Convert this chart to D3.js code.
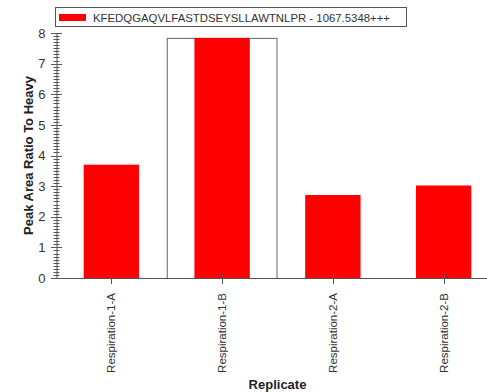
<!DOCTYPE html>
<html lang="en">
<head>
<meta charset="UTF-8">
<title>Peak Area Ratio</title>
<script src="https://d3js.org/d3.v7.min.js"></script>
<style>
  body { margin: 0; background: #fff; }
  svg { font-family: "Liberation Sans", Arial, sans-serif; display: block; }
  .axis-title { font-size: 13px; font-weight: bold; fill: #222; }
</style>
</head>
<body>
<svg id="chart" width="487" height="392"></svg>
<script>
const replicates = ["Respiration-1-A", "Respiration-1-B", "Respiration-2-A", "Respiration-2-B"];
const ratios = [3.70, 7.84, 2.71, 3.02];
const seriesName = "KFEDQGAQVLFASTDSEYSLLAWTNLPR - 1067.5348+++";
const selectedReplicate = "Respiration-1-B";

const svg = d3.select("#chart");
const plotLeft = 56, plotRight = 499, plotTop = 33, plotBottom = 278;
const axisColor = "#555";

const x = d3.scaleBand().domain(replicates).range([plotLeft, plotRight]);
const y = d3.scaleLinear().domain([0, 8]).range([plotBottom, plotTop]);

// selection box
const sel = replicates.indexOf(selectedReplicate);
svg.append("rect")
   .attr("x", x(selectedReplicate) + 0.5)
   .attr("y", y(ratios[sel]) + 0.5)
   .attr("width", x.bandwidth() - 1)
   .attr("height", plotBottom - y(ratios[sel]))
   .attr("fill", "none")
   .attr("stroke", "#666");

// bars
svg.selectAll(".bar")
   .data(replicates)
   .enter()
   .append("rect")
   .attr("x", d => x(d) + x.bandwidth() * 0.25)
   .attr("y", (d, i) => y(ratios[i]))
   .attr("width", x.bandwidth() * 0.5)
   .attr("height", (d, i) => plotBottom - y(ratios[i]))
   .attr("fill", "#ff0000");

// y axis
const yAxis = svg.append("g")
   .attr("transform", `translate(${plotLeft + 0.5},0)`)
   .call(d3.axisLeft(y).ticks(8).tickSize(0).tickPadding(11));
yAxis.select(".domain").attr("stroke", axisColor);
yAxis.selectAll("text").attr("font-size", 13).attr("fill", "#333");

svg.append("g").selectAll("line")
   .data(y.ticks(80))
   .enter()
   .append("line")
   .attr("x1", d => Math.abs(d - Math.round(d)) < 1e-6 ? plotLeft - 5 : plotLeft - 2.5)
   .attr("x2", d => Math.abs(d - Math.round(d)) < 1e-6 ? plotLeft + 6 : plotLeft + 3.5)
   .attr("y1", d => Math.round(y(d)) + 0.5)
   .attr("y2", d => Math.round(y(d)) + 0.5)
   .attr("stroke", axisColor);

// x axis
svg.append("line")
   .attr("x1", plotLeft).attr("x2", 487)
   .attr("y1", plotBottom + 0.5).attr("y2", plotBottom + 0.5)
   .attr("stroke", axisColor);

svg.append("g").selectAll("line")
   .data(replicates)
   .enter()
   .append("line")
   .attr("x1", d => Math.round(x(d) + x.bandwidth() / 2) + 0.5)
   .attr("x2", d => Math.round(x(d) + x.bandwidth() / 2) + 0.5)
   .attr("y1", plotBottom - 4)
   .attr("y2", plotBottom + 6)
   .attr("stroke", axisColor);

svg.append("g").selectAll("text")
   .data(replicates)
   .enter()
   .append("text")
   .attr("transform", d => `translate(${x(d) + x.bandwidth() / 2 + 4},${plotBottom + 15}) rotate(-90)`)
   .attr("text-anchor", "end")
   .attr("font-size", 11.5)
   .attr("fill", "#333")
   .text(d => d);

// axis titles
svg.append("text")
   .attr("class", "axis-title")
   .attr("transform", `translate(33,155.5) rotate(-90)`)
   .attr("text-anchor", "middle")
   .text("Peak Area Ratio To Heavy");

svg.append("text")
   .attr("class", "axis-title")
   .attr("x", (plotLeft + plotRight) / 2)
   .attr("y", 389)
   .attr("text-anchor", "middle")
   .text("Replicate");

// legend
const legend = svg.append("g");
legend.append("rect")
   .attr("x", 55.5).attr("y", 7.5)
   .attr("width", 351).attr("height", 19)
   .attr("fill", "#fff").attr("stroke", "#555");
legend.append("rect")
   .attr("x", 59).attr("y", 14)
   .attr("width", 27).attr("height", 7)
   .attr("fill", "#ff0000");
legend.append("text")
   .attr("x", 93).attr("y", 22)
   .attr("font-size", 11.5)
   .attr("textLength", 297)
   .attr("lengthAdjust", "spacingAndGlyphs")
   .attr("fill", "#333")
   .text(seriesName);
</script>
</body>
</html>
